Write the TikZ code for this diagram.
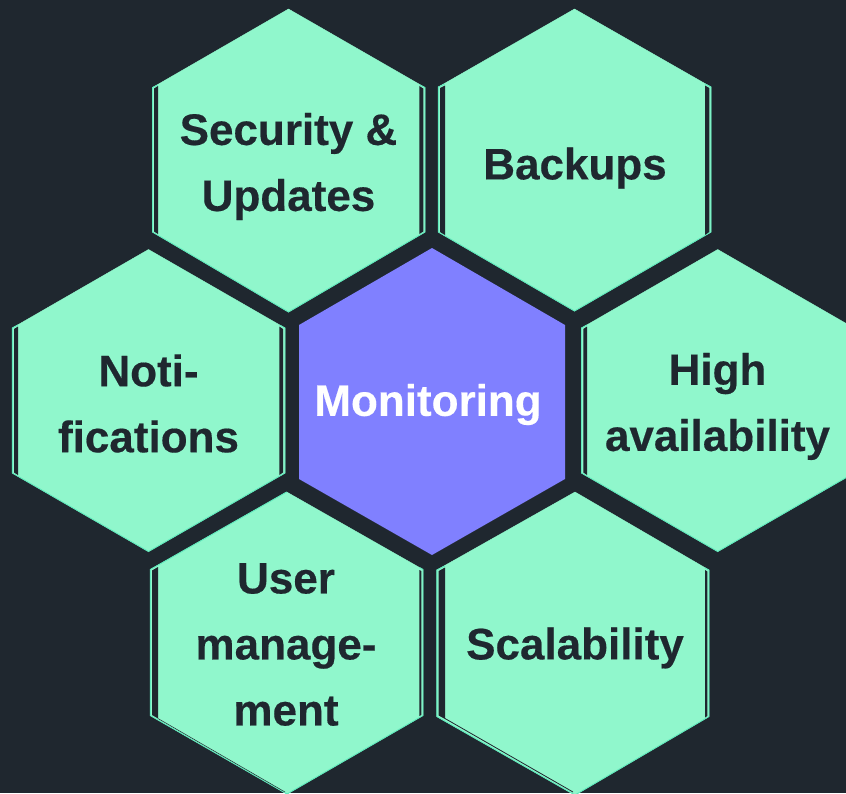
\documentclass[tikz,border=0pt]{standalone}
\usepackage{fontspec}
\setmainfont{Liberation Sans}
\newfontfamily\labelfont[BoldFeatures={FakeBold=0.35}]{Liberation Sans}
\definecolor{bgdark}{HTML}{1F272F}
\definecolor{mint}{HTML}{90F7CC}
\definecolor{mintedge}{HTML}{5FE9BC}
\definecolor{violet}{HTML}{8080FF}
\tikzset{
  hexcell/.style={fill=mint,draw=mint,line width=0.4pt,line join=miter},
  hexrim/.style={draw=mintedge,line width=0.9pt,line join=miter},
  hexcentre/.style={fill=violet,draw=none},
  gapstrip/.style={fill=bgdark,draw=none},
  hairline/.style={draw=bgdark,line width=0.5pt},
  celltext/.style={text=bgdark,font=\fontsize{44}{66}\selectfont\labelfont\bfseries,align=center,inner sep=0pt,anchor=center},
  centretext/.style={text=white,font=\fontsize{44}{66}\selectfont\labelfont\bfseries,align=center,inner sep=0pt,anchor=center},
}
\begin{document}
\begin{tikzpicture}[x=1pt,y=-1pt]
\useasboundingbox (0,0) rectangle (846,793);
\fill[bgdark] (0,0) rectangle (846,793);
\clip (0,0) rectangle (846,793);
% Security
\draw[hexcell] (288.5,9) -- (425,87.5) -- (425,232) -- (288.5,312) -- (152.5,232) -- (152.5,87.5) -- cycle;
\draw[hexrim] (158,85) -- (152.5,87.5) -- (152.5,232) -- (288.5,312) -- (425,232) -- (425,87.5) -- (419.5,85);
\fill[gapstrip] (154,88.5) -- (158,86) -- (158,234) -- (154,231.5) -- cycle;
\fill[gapstrip] (419.3,86) -- (423.3,88.5) -- (423.3,231.5) -- (419.3,234) -- cycle;
% Backups
\draw[hexcell] (574.5,9) -- (711,87) -- (711,232) -- (574.5,311) -- (438.3,232) -- (438.3,87) -- cycle;
\draw[hexrim] (445,84) -- (438.3,87) -- (438.3,232) -- (574.5,311) -- (711,232) -- (711,87) -- (705,84);
\fill[gapstrip] (440,88) -- (445,85.5) -- (445,235) -- (440,232) -- cycle;
\fill[gapstrip] (705,85.5) -- (709.3,88) -- (709.3,232) -- (705,235) -- cycle;
% Notifications
\draw[hexcell] (148.5,249.5) -- (285,328) -- (285,473) -- (148.5,551.5) -- (12.3,473) -- (12.3,328) -- cycle;
\draw[hexrim] (18,325) -- (12.3,328) -- (12.3,473) -- (148.5,551.5) -- (285,473) -- (285,328) -- (279.5,325);
\fill[gapstrip] (14,329) -- (18,326.5) -- (18,475) -- (14,472.5) -- cycle;
\fill[gapstrip] (279.3,326.5) -- (283,329) -- (283,472.5) -- (279.3,475) -- cycle;
% High availability
\draw[hexcell] (717.7,249.5) -- (854,328) -- (854,473) -- (717.7,551.5) -- (581.5,473) -- (581.5,328) -- cycle;
\draw[hexrim] (587,325) -- (581.5,328) -- (581.5,473) -- (717.7,551.5) -- (854,473);
\fill[gapstrip] (583.3,329) -- (587,326.5) -- (587,475) -- (583.3,472.5) -- cycle;
% User management
\draw[hexcell] (286.7,492) -- (423,569.5) -- (423,715.5) -- (287,794) -- (150.3,715.5) -- (150.3,569.5) -- cycle;
\draw[hexrim] (286.7,492) -- (150.3,569.5) -- (150.3,715.5) -- (287,794) -- (423,715.5) -- (423,569.5) -- (419.5,567.5);
\fill[gapstrip] (152,570.5) -- (158,567) -- (158,718.5) -- (152,715) -- cycle;
\fill[gapstrip] (419.3,570) -- (421.3,571) -- (421.3,715) -- (419.3,716) -- cycle;
\draw[hairline] (158,718.5) -- (285,792);
% Scalability
\draw[hexcell] (575,492) -- (709,570) -- (709,716.5) -- (575,795) -- (436.8,716.5) -- (436.8,570) -- cycle;
\draw[hexrim] (445,566) -- (436.8,570) -- (436.8,716.5) -- (575,795) -- (709,716.5) -- (709,570) -- (705,568);
\fill[gapstrip] (438.7,571) -- (445,567.5) -- (445,719) -- (438.7,715.5) -- cycle;
\fill[gapstrip] (705,570) -- (707.3,571.5) -- (707.3,716) -- (705,717.5) -- cycle;
\draw[hairline,line width=0.8pt] (445,718.5) -- (573,792);
% Monitoring
\fill[hexcentre] (432,248) -- (565,325) -- (565,479) -- (432,555) -- (299,479) -- (299,325) -- cycle;
% Labels
\node[celltext] (security) at (288.5,166.5) {Security \&\\Updates};
\node[celltext] (backups) at (575,168) {Backups};
\node[celltext] (notifications) at (148.5,403.5) {Noti-\\fications};
\node[celltext] (high) at (717.5,406.5) {High\\availability};
\node[celltext] (user) at (286,644.5) {User\\manage-\\ment};
\node[celltext] (scalability) at (575,648) {Scalability};
\node[centretext] (monitoring) at (428,404.5) {Monitoring};
\end{tikzpicture}
\end{document}
